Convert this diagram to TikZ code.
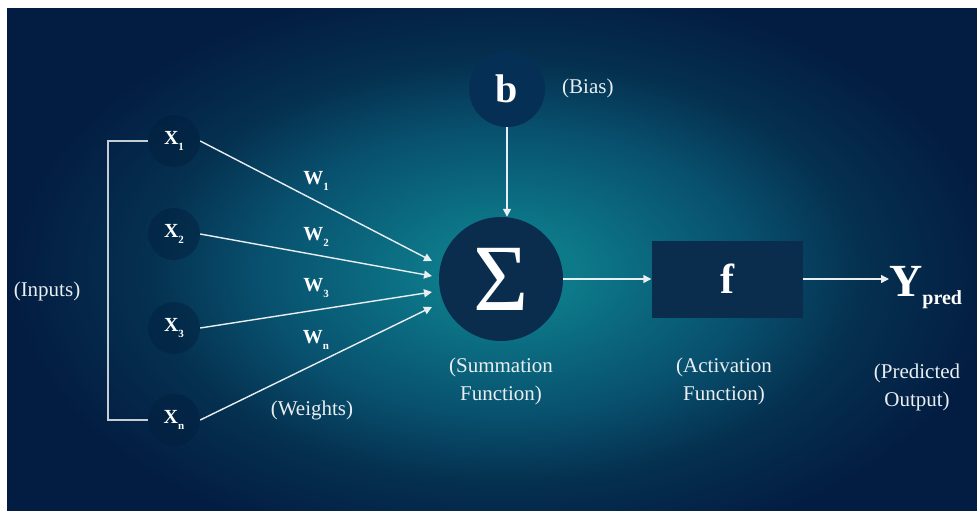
\documentclass[tikz,border=0pt]{standalone}
\usepackage{fontspec}
\setmainfont{Liberation Serif}
\usetikzlibrary{arrows.meta}
\definecolor{bgc}{HTML}{0D7A8A}
\definecolor{bgm}{HTML}{08506E}
\definecolor{bgq}{HTML}{05304F}
\definecolor{bgo}{HTML}{031D42}
\definecolor{sumfill}{HTML}{0A2D4E}
\definecolor{bfill}{HTML}{062F55}
\definecolor{xfill}{HTML}{03203F}
\definecolor{linec}{HTML}{E8EEF2}
\definecolor{brackc}{HTML}{C5CDD5}
\pgfdeclareradialshading{bgshade}{\pgfpoint{0bp}{0bp}}{color(0bp)=(bgc); color(1.5bp)=(bgc); color(5.5bp)=(bgm); color(8bp)=(bgq); color(11bp)=(bgo); color(50bp)=(bgo)}
\newcommand{\fs}[1]{\fontsize{#1}{#1}\selectfont}
\newcommand{\subl}[2]{#1\raisebox{-6pt}{\fs{11}#2}}
\tikzset{
  xcirc/.style={circle, fill=xfill, fill opacity=0.5, text opacity=1, minimum size=52pt, inner sep=0pt, text=white, font=\bfseries\fs{20}},
  bcirc/.style={circle, fill=bfill, minimum size=76pt, inner sep=0pt, text=white, font=\bfseries\fs{40}},
  sumcirc/.style={circle, fill=sumfill, minimum size=124pt, inner sep=0pt, text=white, font=\fs{95}},
  fbox/.style={rectangle, fill=sumfill, minimum width=151pt, minimum height=77pt, inner sep=0pt, text=white, font=\bfseries\fs{42}},
  wlab/.style={inner sep=0pt, text=white, font=\bfseries\fs{20}},
  lab/.style={inner sep=0pt, text=linec, align=center, font=\fontsize{21}{28}\selectfont},
  conn/.style={draw=linec, line width=1.4pt, -{Triangle[width=8pt,length=8pt]}},
  brack/.style={draw=brackc, line width=1.4pt}
}
\begin{document}
\begin{tikzpicture}[x=1pt,y=-1pt]
\useasboundingbox (0,0) rectangle (977,511);
\fill[white] (0,0) rectangle (977,511);
\begin{scope}
  \clip (7,9) rectangle (977,511);
  \shade[shading=bgshade] (505,272) ellipse [x radius=1120, y radius=660];
\end{scope}

% input nodes
\node[xcirc] (x1) at (174,141) {\subl{X}{1}};
\node[xcirc] (x2) at (174,234) {\subl{X}{2}};
\node[xcirc] (x3) at (174,328) {\subl{X}{3}};
\node[xcirc] (xn) at (174,420) {\subl{X}{n}};

% bracket
\coordinate (bt) at (108,141);
\coordinate (bb) at (108,420);
\draw[brack] (x1.west) -- (bt) -- (bb) -- (xn.west);
\node[lab] (inputs) at (47,291) {(Inputs)};

% summation, bias, activation
\node[sumcirc] (sum) at (501,279) {Σ};
\node[bcirc] (b) at (507,89) {b};
\node[lab, anchor=west] (bias) at (562,88) {(Bias)};
\node[fbox] (f) at (727,279) {f};
\node[inner sep=0pt, text=white, font=\bfseries\fs{46}, anchor=base west] (y) at (889,296) {Y\raisebox{-8pt}{\fs{20}pred}};

% weight labels
\node[wlab] (w1) at (316,181) {\subl{W}{1}};
\node[wlab] (w2) at (316,237) {\subl{W}{2}};
\node[wlab] (w3) at (316,288) {\subl{W}{3}};
\node[wlab] (wn) at (316,340) {\subl{W}{n}};
\node[lab] (weights) at (312,410) {(Weights)};

% arrow end points on the summation node
\coordinate (e1) at (432,261);
\coordinate (e2) at (432,276);
\coordinate (e3) at (432,292);
\coordinate (e4) at (432,307);

\draw[conn] (x1.east) -- (e1);
\draw[conn] (x2.east) -- (e2);
\draw[conn] (x3.east) -- (e3);
\draw[conn] (xn.east) -- (e4);
\draw[conn] (b.south) -- (b.south |- sum.north);
\draw[conn] (sum.east) -- (f.west);
\draw[conn] (f.east) -- (f.east -| y.west);

% captions
\node[lab] (sumcap) at (501,381) {(Summation\\Function)};
\node[lab] (actcap) at (724,381) {(Activation\\Function)};
\node[lab] (predcap) at (917,387) {(Predicted\\Output)};
\end{tikzpicture}
\end{document}
